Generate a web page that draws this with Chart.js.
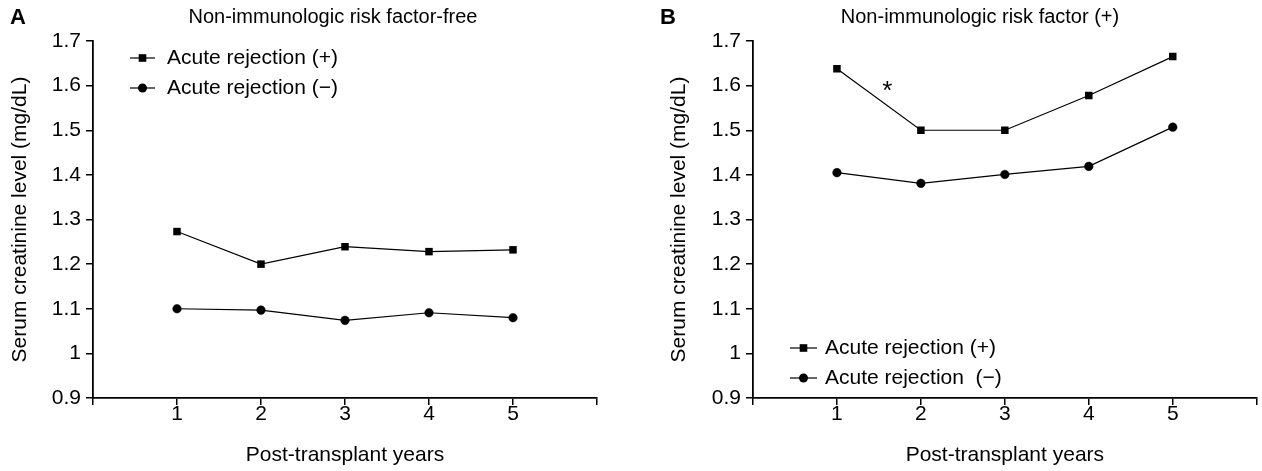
<!DOCTYPE html>
<html>
<head>
<meta charset="utf-8">
<script src="https://cdn.jsdelivr.net/npm/chart.js@4"></script>
<style>
  body { margin: 0; background: #fff; }
  .wrap { position: relative; width: 1262px; height: 471px; }
  canvas { position: absolute; top: 0; }
</style>
</head>
<body>
<div class="wrap">
  <canvas id="chartA" width="631" height="471" style="left:0"></canvas>
  <canvas id="chartB" width="631" height="471" style="left:631px"></canvas>
</div>
<script>
// data
const years = [1, 2, 3, 4, 5];
const freeRejPlus = [1.273, 1.200, 1.239, 1.228, 1.232];
const freeRejMinus = [1.100, 1.097, 1.074, 1.091, 1.080];
const riskRejPlus = [1.638, 1.500, 1.500, 1.578, 1.665];
const riskRejMinus = [1.405, 1.381, 1.401, 1.419, 1.507];
const yTicks = [0.9, 1, 1.1, 1.2, 1.3, 1.4, 1.5, 1.6, 1.7];

const FONT = '"Liberation Sans", Arial, sans-serif';

function pts(vals) {
  return years.map((x, i) => ({x: x, y: vals[i]}));
}

function makeSets(plus, minus) {
  return [{
    label: 'Acute rejection (+)',
    data: pts(plus),
    borderColor: '#000', backgroundColor: '#000',
    borderWidth: 1.2, pointStyle: 'rect', pointRadius: 5.3, pointBorderWidth: 0
  }, {
    label: 'Acute rejection (−)',
    data: pts(minus),
    borderColor: '#000', backgroundColor: '#000',
    borderWidth: 1.2, pointStyle: 'circle', pointRadius: 4.3, pointBorderWidth: 0.5
  }];
}

// draws panel letter, heading, legend and the asterisk
function panelDeco(cfg) {
  return {
    id: 'deco',
    afterDraw(chart) {
      const c = chart.ctx;
      c.save();
      c.fillStyle = '#000';
      c.textBaseline = 'middle';
      c.font = 'bold 22px ' + FONT;
      c.textAlign = 'left';
      c.fillText(cfg.letter, cfg.letterX, 18);
      c.font = '20px ' + FONT;
      c.textAlign = 'center';
      c.fillText(cfg.heading, cfg.headingX, 17);

      c.textAlign = 'left';
      c.font = '21px ' + FONT;
      cfg.legendY.forEach((ly, i) => {
        c.strokeStyle = '#000';
        c.lineWidth = 1.2;
        c.beginPath();
        c.moveTo(cfg.legendX[0], ly);
        c.lineTo(cfg.legendX[1], ly);
        c.stroke();
        const mx = (cfg.legendX[0] + cfg.legendX[1]) / 2;
        if (i === 0) {
          c.fillRect(mx - 3.8, ly - 3.8, 7.6, 7.6);
        } else {
          c.beginPath();
          c.arc(mx, ly, 4.5, 0, Math.PI * 2);
          c.fill();
        }
        c.fillText(cfg.legendText[i], cfg.legendX[2], ly);
      });

      if (cfg.star) {
        const xs = chart.scales.x, ys = chart.scales.y;
        c.textAlign = 'center';
        c.font = '26px ' + FONT;
        c.fillText('*', xs.getPixelForValue(cfg.star[0]), ys.getPixelForValue(cfg.star[1]) + 6);
      }
      c.restore();
    }
  };
}

function makeChart(id, sets, yWidth, titlePad, rightPad, deco) {
  const ctx = document.getElementById(id);
  return new Chart(ctx, {
    type: 'line',
    data: {datasets: sets},
    options: {
      responsive: false,
      animation: false,
      devicePixelRatio: 1,
      layout: {padding: {top: 41, right: rightPad, bottom: 0, left: 0}},
      plugins: {legend: {display: false}, tooltip: {enabled: false}},
      elements: {line: {tension: 0}},
      scales: {
        x: {
          type: 'linear', min: 0, max: 6,
          afterFit: s => { s.height = 73; },
          afterBuildTicks: s => { s.ticks = [0, 1, 2, 3, 4, 5, 6].map(v => ({value: v})); },
          ticks: {
            callback: v => (v >= 1 && v <= 5) ? String(v) : '',
            color: '#000', font: {family: FONT, size: 21, lineHeight: 1}, padding: -1,
            maxRotation: 0
          },
          grid: {drawOnChartArea: false, drawTicks: true, tickLength: 7, color: '#000', lineWidth: 1.5},
          border: {display: true, color: '#000', width: 1.8},
          title: {display: true, text: 'Post-transplant years', color: '#000',
                  font: {family: FONT, size: 21}, padding: {top: 0, bottom: 3}}
        },
        y: {
          min: 0.9, max: 1.7,
          afterFit: s => { s.width = yWidth; },
          afterBuildTicks: s => { s.ticks = yTicks.map(v => ({value: v})); },
          ticks: {
            callback: v => String(Math.round(v * 10) / 10),
            color: '#000', font: {family: FONT, size: 21}, padding: 5
          },
          grid: {drawOnChartArea: false, drawTicks: true, tickLength: 7, color: '#000', lineWidth: 1.5},
          border: {display: true, color: '#000', width: 1.8},
          title: {display: true, text: 'Serum creatinine level (mg/dL)', color: '#000',
                  font: {family: FONT, size: 21}, padding: {top: titlePad, bottom: 0}}
        }
      }
    },
    plugins: [deco]
  });
}

makeChart('chartA', makeSets(freeRejPlus, freeRejMinus), 93, 8, 34, panelDeco({
  letter: 'A', letterX: 10,
  heading: 'Non-immunologic risk factor-free', headingX: 333,
  legendX: [130, 155, 167], legendY: [58, 88],
  legendText: ['Acute rejection (+)', 'Acute rejection (−)']
}));

makeChart('chartB', makeSets(riskRejPlus, riskRejMinus), 122, 36, 4, panelDeco({
  letter: 'B', letterX: 29,
  heading: 'Non-immunologic risk factor (+)', headingX: 349,
  legendX: [159, 186, 194], legendY: [348, 378],
  legendText: ['Acute rejection (+)', 'Acute rejection  (−)'],
  star: [1.6, 1.6]
}));
</script>
</body>
</html>
